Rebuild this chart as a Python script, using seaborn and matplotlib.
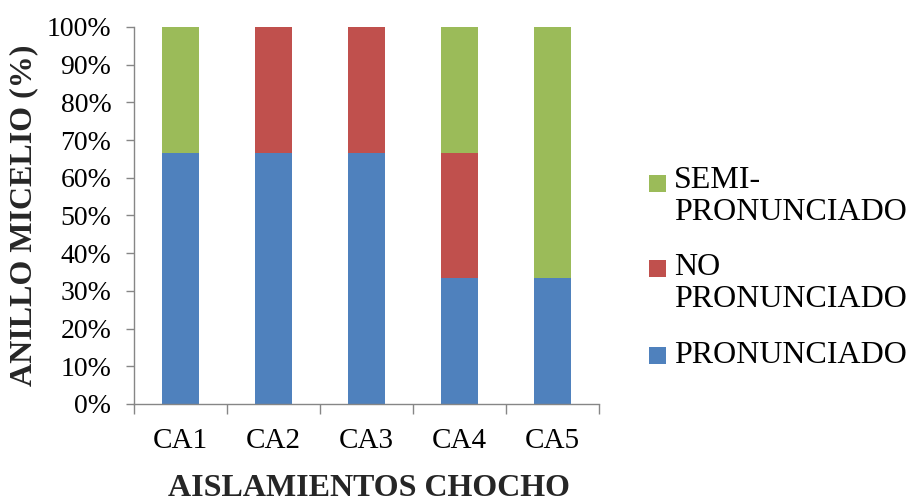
import matplotlib
matplotlib.use("Agg")
import matplotlib.pyplot as plt
from matplotlib.patches import Rectangle
from matplotlib.ticker import FixedLocator, PercentFormatter
import numpy as np
import pandas as pd
import seaborn as sns

# Data: share of isolates by mycelium ring type (%)
categories = ["CA1", "CA2", "CA3", "CA4", "CA5"]
pronunciado = [66.67, 66.67, 66.67, 33.33, 33.33]
no_pronunciado = [0.0, 33.33, 33.33, 33.33, 0.0]
semi_pronunciado = [33.33, 0.0, 0.0, 33.33, 66.67]
y_ticks = [0, 10, 20, 30, 40, 50, 60, 70, 80, 90, 100]

series_labels = ["SEMI-\nPRONUNCIADO", "NO\nPRONUNCIADO", "PRONUNCIADO"]
series_colors = ["#9BBB59", "#C0504D", "#4F81BD"]
axis_gray = "#868686"

sns.set_theme(style="white")
plt.rcParams["font.family"] = ["Liberation Serif", "DejaVu Serif"]

df = pd.DataFrame({
    "aislamiento": categories,
    "p": pronunciado,
    "n": no_pronunciado,
    "s": semi_pronunciado,
})
# cumulative tops of each stacked segment
df["top_s"] = df["p"] + df["n"] + df["s"]
df["top_n"] = df["p"] + df["n"]
df["top_p"] = df["p"]

fig = plt.figure(figsize=(9.07, 4.98), dpi=100)
ax = fig.add_axes([0.1477, 0.1888, 0.5127, 0.7570])

# draw from the highest cumulative segment down so each layer shows as a stack
for col, color in zip(["top_s", "top_n", "top_p"], series_colors):
    sns.barplot(data=df, x="aislamiento", y=col, color=color, saturation=1,
                width=0.4, linewidth=0, ax=ax, order=categories)

ax.set_xlim(-0.5, len(categories) - 0.5)
ax.set_ylim(0, 100)
ax.yaxis.set_major_locator(FixedLocator(y_ticks))
ax.yaxis.set_major_formatter(PercentFormatter(decimals=0))

for side in ["top", "right"]:
    ax.spines[side].set_visible(False)
for side in ["left", "bottom"]:
    ax.spines[side].set_color(axis_gray)
    ax.spines[side].set_linewidth(1.0)

ax.tick_params(axis="y", direction="out", length=5.8, width=1.0, color=axis_gray,
               labelsize=20, labelcolor="black", pad=10.5, left=True)
ax.tick_params(axis="x", which="major", length=0, labelsize=21,
               labelcolor="black", pad=17)
ax.xaxis.set_minor_locator(FixedLocator(np.arange(-0.5, len(categories), 1.0)))
ax.tick_params(axis="x", which="minor", direction="out", length=7.2, width=1.0,
               color=axis_gray, bottom=True)

ax.set_xlabel("AISLAMIENTOS CHOCHO", fontsize=23, fontweight="bold")
ax.xaxis.label.set_va("baseline")
ax.xaxis.set_label_coords(0.505, -0.244)
ax.set_ylabel("ANILLO MICELIO (%)", fontsize=23, fontweight="bold")
ax.yaxis.label.set_va("center")
ax.yaxis.set_label_coords(-0.2366, 0.5)

# legend: square swatch aligned with the first line of each label
W, H = 907.0, 498.0
legend_rows = [(175, 166, series_labels[0], series_colors[0]),
               (260, 253, series_labels[1], series_colors[1]),
               (347, 341, series_labels[2], series_colors[2])]
for sq_top, txt_top, label, color in legend_rows:
    fig.patches.append(Rectangle((649 / W, 1 - (sq_top + 17) / H), 17 / W, 17 / H,
                                 transform=fig.transFigure, facecolor=color,
                                 edgecolor="none"))
    fig.text(674 / W, 1 - txt_top / H, label, fontsize=23, va="top",
             ha="left", linespacing=1.12, color="black")

fig.savefig("out.png", dpi=100)
